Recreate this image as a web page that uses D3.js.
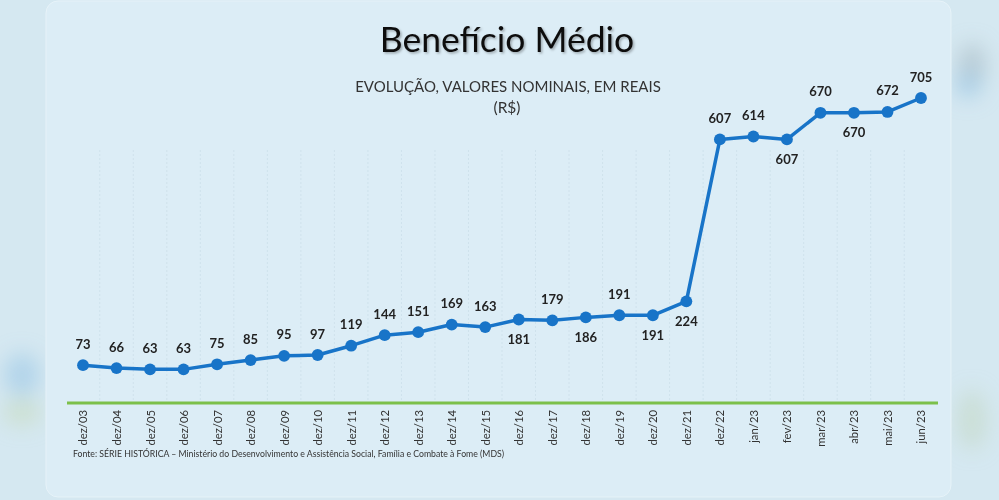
<!DOCTYPE html>
<html><head><meta charset="utf-8">
<script src="https://cdn.jsdelivr.net/npm/d3@7"></script>
<style>
html,body{margin:0;padding:0;background:#d5e8f1;}
svg{display:block;}
</style></head>
<body>
<svg id="chart" width="999" height="500"></svg>
<script>
const categories = ["dez/03","dez/04","dez/05","dez/06","dez/07","dez/08","dez/09","dez/10","dez/11","dez/12","dez/13","dez/14","dez/15","dez/16","dez/17","dez/18","dez/19","dez/20","dez/21","dez/22","jan/23","fev/23","mar/23","abr/23","mai/23","jun/23"];
const values = [73,66,63,63,75,85,95,97,119,144,151,169,163,181,179,186,191,191,224,607,614,607,670,670,672,705];
const labelSide = ["a","a","a","a","a","a","a","a","a","a","a","a","a","b","a","b","a","b","b","a","a","b","a","b","a","a"];
const titleText = "Benefício Médio";
const subtitleText = "EVOLUÇÃO, VALORES NOMINAIS, EM REAIS";
const unitText = "(R$)";
const sourceText = "Fonte: SÉRIE HISTÓRICA – Ministério do Desenvolvimento e Assistência Social, Família e Combate à Fome (MDS)";

const svg = d3.select("#chart");
const defs = svg.append("defs");
defs.append("filter").attr("id","blur").append("feGaussianBlur").attr("stdDeviation",10);
const sh = defs.append("filter").attr("id","shadow").attr("x","-10%").attr("y","-20%").attr("width","120%").attr("height","150%");
sh.append("feDropShadow").attr("dx",1.5).attr("dy",1.5).attr("stdDeviation",1.2).attr("flood-color","#000").attr("flood-opacity",0.3);

// background blobs outside panel
const blobs = svg.append("g").attr("filter","url(#blur)");
blobs.append("ellipse").attr("cx",22).attr("cy",375).attr("rx",18).attr("ry",22).attr("fill","#9cc8e6").attr("opacity",0.6);
blobs.append("ellipse").attr("cx",22).attr("cy",412).attr("rx",20).attr("ry",14).attr("fill","#c8dcc0").attr("opacity",0.6);
blobs.append("ellipse").attr("cx",972).attr("cy",65).attr("rx",14).attr("ry",22).attr("fill","#a8bac4").attr("opacity",0.6);
blobs.append("ellipse").attr("cx",968).attr("cy",85).attr("rx",14).attr("ry",14).attr("fill","#9cc8e6").attr("opacity",0.6);
blobs.append("ellipse").attr("cx",972).attr("cy",420).attr("rx",16).attr("ry",30).attr("fill","#c4d8c6").attr("opacity",0.6);

// panel
svg.append("rect").attr("x",46).attr("y",1).attr("width",905).attr("height",496).attr("rx",12)
  .attr("fill","#dcedf6").attr("stroke","#e6f2f8").attr("stroke-width",1);

const x = d3.scalePoint().domain(categories).range([83,921]);
const y = d3.scaleLinear().domain([0,705]).range([396,98]);
const step = x.step();

// vertical faint gridlines at category boundaries
const gridX = categories.slice(0,-1).map(c => x(c) + step/2);
svg.append("g").selectAll("line").data(gridX).join("line")
  .attr("x1",d=>d).attr("x2",d=>d).attr("y1",150).attr("y2",402)
  .attr("stroke","#cfe2ec").attr("stroke-width",1).attr("stroke-dasharray","2,2");

// titles
svg.append("text").attr("x",507).attr("y",52).attr("text-anchor","middle")
  .attr("font-family","Lato, 'Open Sans', sans-serif").attr("font-size",35.5).attr("fill","#111")
  .attr("filter","url(#shadow)").text(titleText);
svg.append("text").attr("x",508).attr("y",92).attr("text-anchor","middle")
  .attr("font-family","Lato, 'Open Sans', sans-serif").attr("font-size",15).attr("fill","#333").text(subtitleText);
svg.append("text").attr("x",507).attr("y",113).attr("text-anchor","middle")
  .attr("font-family","Lato, 'Open Sans', sans-serif").attr("font-size",15.5).attr("fill","#333").text(unitText);

// baseline (green)
svg.append("line").attr("x1",67).attr("x2",938).attr("y1",403).attr("y2",403)
  .attr("stroke","#7cc04a").attr("stroke-width",3);

// x axis labels
const xAxis = d3.axisBottom(x).tickSize(0).tickPadding(0);
const gx = svg.append("g").attr("transform","translate(0,410)").call(xAxis);
gx.select(".domain").remove();
gx.selectAll("text").attr("transform","rotate(-90)").attr("text-anchor","end")
  .attr("x",0).attr("y",0).attr("dx",0).attr("dy","0.35em")
  .attr("font-family","Lato, 'Open Sans', sans-serif").attr("font-size",11.3).attr("fill","#333");

// line
const data = categories.map((c,i)=>({c, v: values[i], s: labelSide[i]}));
svg.append("path").datum(data)
  .attr("d", d3.line().x(d=>x(d.c)).y(d=>y(d.v)))
  .attr("fill","none").attr("stroke","#1874c8").attr("stroke-width",3.5).attr("stroke-linejoin","round");

// markers
svg.append("g").selectAll("path").data(data).join("path")
  .attr("transform", d=>`translate(${x(d.c)},${y(d.v)})`)
  .attr("d", d3.symbol().type(d3.symbolCircle).size(110))
  .attr("fill","#1874c8");

// value labels
svg.append("g").selectAll("text").data(data).join("text")
  .attr("x", d=>x(d.c))
  .attr("y", d=>y(d.v) + (d.s==="a" ? -21 : 20))
  .attr("dy","0.35em").attr("text-anchor","middle")
  .attr("font-family","Lato, 'Open Sans', sans-serif").attr("font-weight","bold").attr("font-size",13).attr("fill","#222")
  .text(d=>d.v);

// source
svg.append("text").attr("x",73).attr("y",457)
  .attr("font-family","Lato, 'Open Sans', sans-serif").attr("font-size",8.7).attr("fill","#333").text(sourceText);
</script>
</body></html>
